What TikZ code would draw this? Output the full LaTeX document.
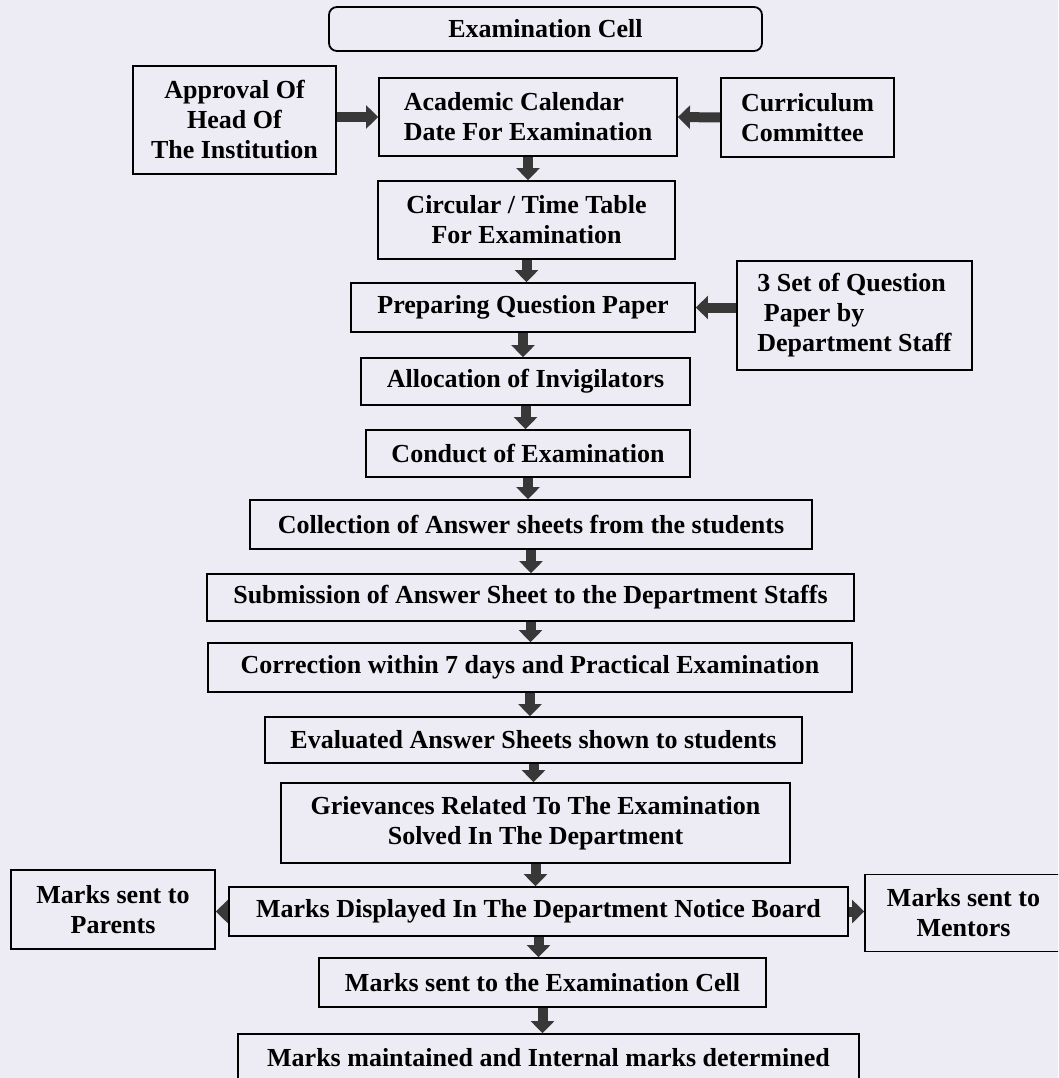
\documentclass[tikz,border=0pt]{standalone}
\usepackage{fontspec}
\setmainfont{Liberation Serif}
\usetikzlibrary{arrows.meta}
\definecolor{bg}{HTML}{EDECF4}
\definecolor{arr}{HTML}{383838}
\tikzset{
  box/.style={draw=black, line width=1.8pt, fill=bg, font=\bfseries\fontsize{26}{30}\selectfont, align=center, inner sep=0pt},
  lbox/.style={box, align=left},
  flow/.style={draw=arr, line width=10pt, -{Triangle[length=12pt,width=23pt]}, shorten >=0pt},
}
\begin{document}
\begin{tikzpicture}[x=1pt,y=-1pt]
\useasboundingbox (0,0) rectangle (1058,1078);
\fill[bg] (0,0) rectangle (1058,1078);
\begin{scope}
\clip (0,0) rectangle (1058,1078);
\node[box, rounded corners=8pt, minimum width=433pt, minimum height=44pt] (cell) at (545.5,29) {Examination Cell};
\node[box, minimum width=203pt, minimum height=108pt] (appr) at (234.5,120) {Approval Of\\Head Of\\The Institution};
\node[lbox, minimum width=298pt, minimum height=78pt] (acad) at (528,117) {Academic Calendar\\Date For Examination};
\node[lbox, minimum width=173pt, minimum height=79pt] (curr) at (807.5,117.5) {Curriculum\\Committee};
\node[box, minimum width=297pt, minimum height=78pt] (circ) at (526.5,220) {Circular / Time Table\\For Examination};
\node[box, minimum width=344pt, minimum height=49pt] (prep) at (523,307.5) {Preparing Question Paper};
\node[lbox, minimum width=235pt, minimum height=109pt] (qset) at (854.5,315.5) {3 Set of Question\\\ Paper by\\Department Staff};
\node[box, minimum width=329pt, minimum height=47pt] (alloc) at (525.5,381.5) {Allocation of Invigilators};
\node[box, minimum width=324pt, minimum height=47pt] (cond) at (528,453.5) {Conduct of Examination};
\node[box, minimum width=562pt, minimum height=49pt] (coll) at (531,524.5) {Collection of Answer sheets from the students};
\node[box, minimum width=647pt, minimum height=47pt] (subm) at (530.5,597.5) {Submission of Answer Sheet to the Department Staffs};
\node[box, minimum width=644pt, minimum height=49pt] (corr) at (530,667.5) {Correction within 7 days and Practical Examination};
\node[box, minimum width=537pt, minimum height=46pt] (eval) at (533.5,740) {Evaluated Answer Sheets shown to students};
\node[box, minimum width=509pt, minimum height=80pt] (griev) at (535.5,823) {Grievances Related To The Examination\\Solved In The Department};
\node[box, minimum width=619pt, minimum height=49pt] (disp) at (538.5,911.5) {Marks Displayed In The Department Notice Board};
\node[box, minimum width=204pt, minimum height=79pt] (par) at (113,909.5) {Marks sent to\\Parents};
\node[box, minimum width=197pt, minimum height=77pt] (ment) at (963.5,913) {Marks sent to\\Mentors};
\node[box, minimum width=447pt, minimum height=49pt] (sent) at (542.5,982.5) {Marks sent to the Examination Cell};
\node[box, minimum width=621pt, minimum height=56pt] (maint) at (548.5,1062) {\raisebox{10pt}{Marks maintained and Internal marks determined}};
% horizontal arrows
\draw[flow] (appr.east |- acad.west) -- (acad.west);
\draw[flow] (curr.west) -- (acad.east);
\draw[flow] (qset.west |- prep.east) -- (prep.east);
\draw[flow] (disp.west) -- (disp.west -| par.east);
\draw[flow] (disp.east) -- (disp.east -| ment.west);
% vertical arrows
\draw[flow] (acad.south) -- (acad.south |- circ.north);
\draw[flow] (circ.south) -- (circ.south |- prep.north);
\draw[flow] (prep.south) -- (prep.south |- alloc.north);
\draw[flow] (alloc.south) -- (alloc.south |- cond.north);
\draw[flow] (cond.south) -- (cond.south |- coll.north);
\draw[flow] (coll.south) -- (coll.south |- subm.north);
\draw[flow] (subm.south) -- (subm.south |- corr.north);
\draw[flow] (corr.south) -- (corr.south |- eval.north);
\draw[flow] (eval.south) -- (eval.south |- griev.north);
\draw[flow] (griev.south) -- (griev.south |- disp.north);
\draw[flow] (disp.south) -- (disp.south |- sent.north);
\draw[flow] (sent.south) -- (sent.south |- maint.north);
\end{scope}
\end{tikzpicture}
\end{document}
